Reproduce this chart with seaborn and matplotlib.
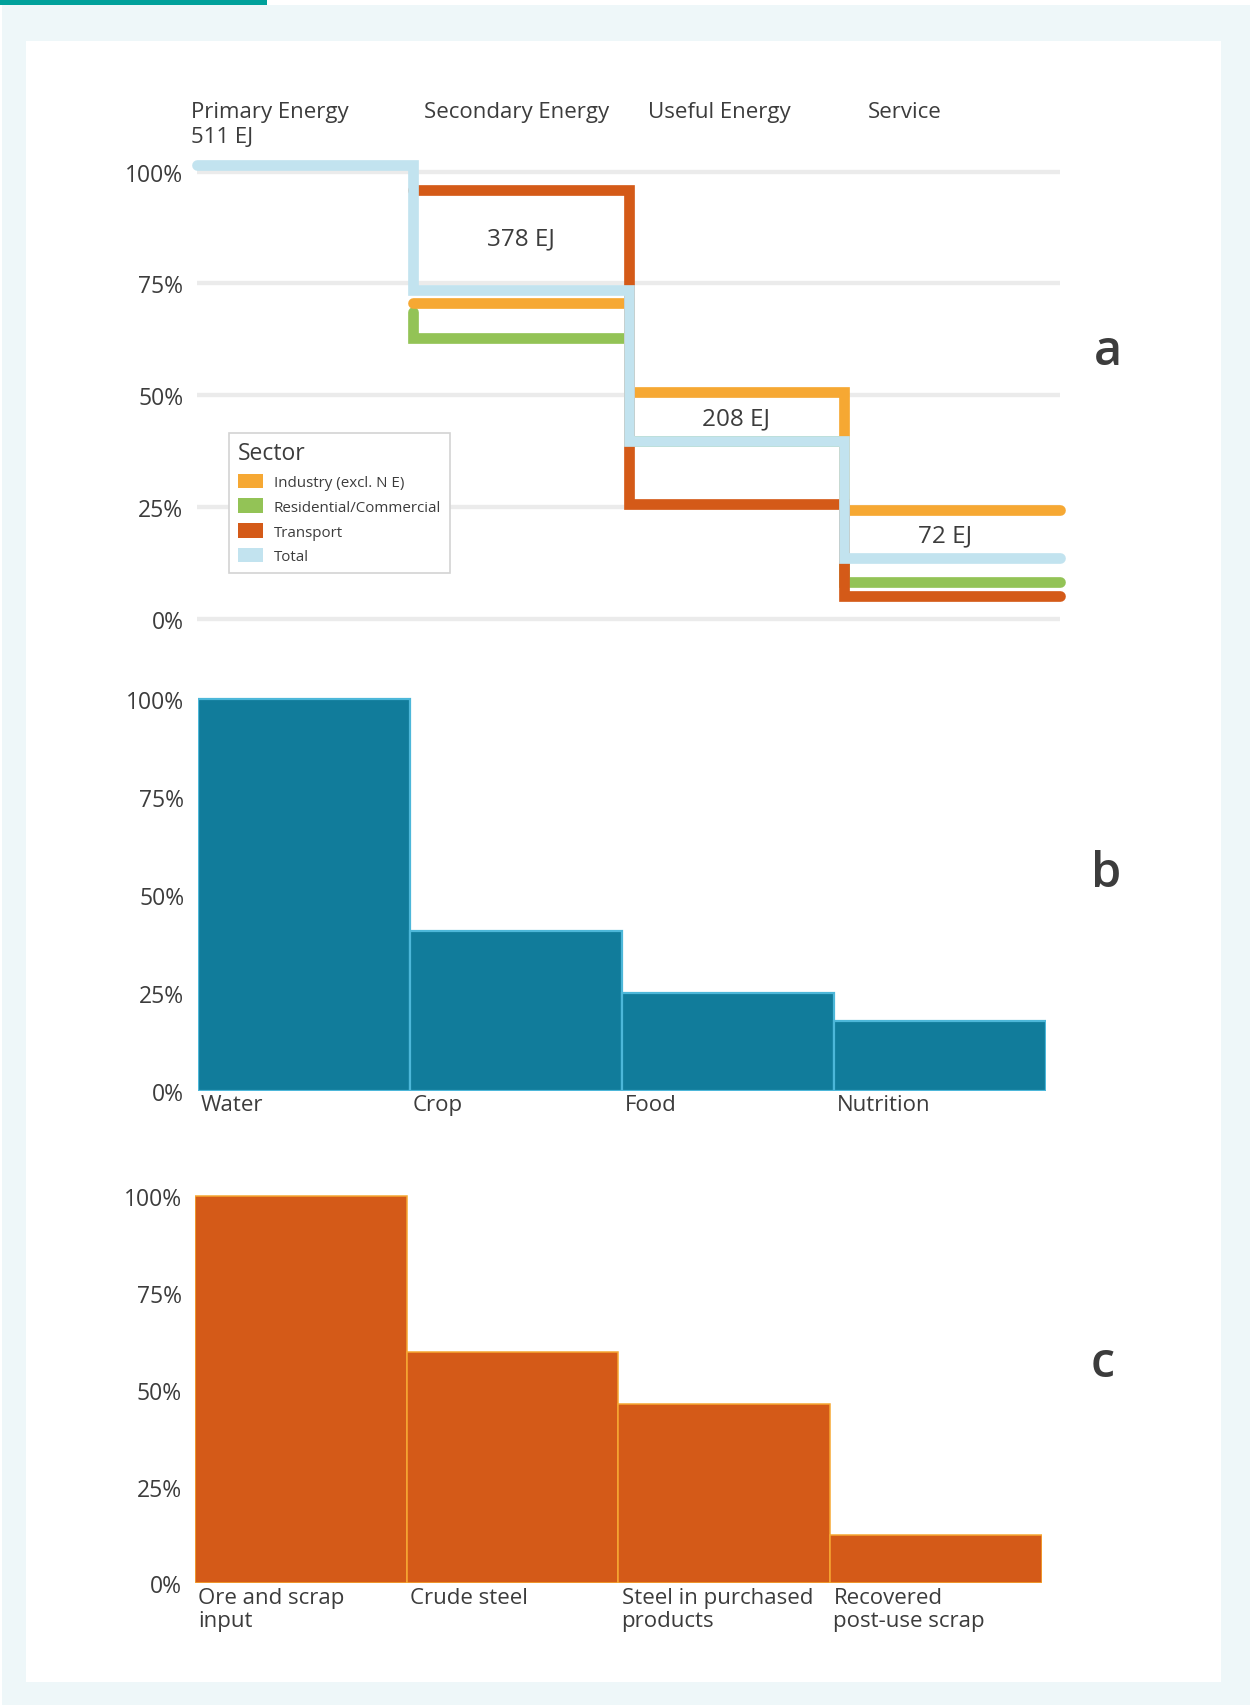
import numpy as np
import pandas as pd
import matplotlib
matplotlib.use("Agg")
import matplotlib.pyplot as plt
from matplotlib.patches import Rectangle, Patch
import seaborn as sns


# a: energy chain, share of primary energy left at each stage (%)
stages = ["Primary Energy", "Secondary Energy", "Useful Energy", "Service"]
total_x = [0, 1, 2, 3]
total_share = [101.5, 73.6, 39.8, 13.7]
total_ej = ["511 EJ", "378 EJ", "208 EJ", "72 EJ"]
industry_x = [1, 2, 3]
industry_share = [70.7, 50.8, 24.3]
residential_x = [1, 1, 2, 3]
residential_share = [68.6, 62.8, 39.8, 8.2]
transport_x = [1, 2, 3]
transport_share = [95.8, 25.7, 5.2]
sectors = ["Industry (excl. N E)", "Residential/Commercial", "Transport", "Total"]

# b: water chain
food_stages = ["Water", "Crop", "Food", "Nutrition"]
food_share = [100, 40.9, 25.1, 17.9]

# c: steel chain
steel_stages = ["Ore and scrap\ninput", "Crude steel", "Steel in purchased\nproducts",
                "Recovered\npost-use scrap"]
steel_share = [100, 59.8, 46.3, 12.6]

TEXT = "#3C3C3C"
GRID = "#EBEBEB"
C_TOTAL = "#C2E3EF"
C_IND = "#F6A833"
C_RES = "#93C356"
C_TRA = "#D45A18"
C_WATER = "#117C9B"
C_WATER_EDGE = "#4DB7D9"

sns.set_style("white")
plt.rcParams["font.family"] = ["Open Sans", "DejaVu Sans"]
plt.rcParams["text.color"] = TEXT

W, H = 1250, 1706
fig = plt.figure(figsize=(W / 100, H / 100), dpi=100, facecolor="white")


def fig_rect(x0, y0, x1, y1, color):
    # pixel box (top-left origin) -> figure fraction
    fig.add_artist(Rectangle((x0 / W, 1 - y1 / H), (x1 - x0) / W, (y1 - y0) / H,
                             transform=fig.transFigure, color=color, zorder=-10, lw=0))


fig_rect(2, 5.7, W, H, "#EEF7F9")
fig_rect(0, 0, 267, 5.7, "#00A19B")
fig_rect(26, 41.7, 1221, 1683, "white")


def to_steps(xs, ys, end=4):
    px, py = [xs[0]], [ys[0]]
    for i in range(1, len(xs)):
        for p in [(xs[i], ys[i - 1]), (xs[i], ys[i])]:
            if p != (px[-1], py[-1]):
                px.append(p[0])
                py.append(p[1])
    px.append(end)
    py.append(ys[-1])
    return pd.DataFrame({"x": px, "y": py})


def style_axis(ax, pad):
    for s in ax.spines.values():
        s.set_visible(False)
    ax.tick_params(length=0, labelsize=16.5, labelcolor=TEXT, pad=pad)
    ax.tick_params(axis="x", labelsize=16)
    ax.set_yticks([0, 25, 50, 75, 100])
    ax.set_yticklabels([f"{v}%" for v in [0, 25, 50, 75, 100]])
    ax.set_xlabel("")
    ax.set_ylabel("")
    ax.set_facecolor("none")


# ---- a ----
ax1 = fig.add_axes([197.3 / W, 1 - 633.5 / H, 862.4 / W, 483.3 / H])
lw = 7.7
line_kws = dict(sort=False, estimator=None, linewidth=lw, solid_capstyle="round",
                solid_joinstyle="miter", clip_on=False, ax=ax1)
sns.lineplot(data=to_steps(residential_x, residential_share), x="x", y="y", color=C_RES, zorder=3, **line_kws)
sns.lineplot(data=to_steps(industry_x, industry_share), x="x", y="y", color=C_IND, zorder=4, **line_kws)
sns.lineplot(data=to_steps(transport_x, transport_share), x="x", y="y", color=C_TRA, zorder=5, **line_kws)
sns.lineplot(data=to_steps(total_x, total_share), x="x", y="y", color=C_TOTAL, zorder=6, **line_kws)

ax1.set_xlim(0, 4)
ax1.set_ylim(-3, 105)
style_axis(ax1, 10)
ax1.set_xticks([])
ax1.yaxis.grid(True, color=GRID, linewidth=3.1)
ax1.set_axisbelow(True)

# stage headers
head_x = [-0.03, 1.05, 2.09, 3.11]
for hx, name in zip(head_x, stages):
    ax1.text(hx, 112.1, name, fontsize=16, ha="left", va="baseline", color=TEXT)
ax1.text(head_x[0], 106.5, total_ej[0], fontsize=16, ha="left", va="baseline", color=TEXT)

# totals inside the steps
ej_pos = [(1.5, 83.8), (2.5, 43.4), (3.47, 17.3)]
for (ex, ey), lab in zip(ej_pos, total_ej[1:]):
    ax1.text(ex, ey, lab, fontsize=17.5, ha="center", va="baseline", color=TEXT, zorder=7)

handles = [Patch(facecolor=c, edgecolor="none") for c in [C_IND, C_RES, C_TRA, C_TOTAL]]
leg = ax1.legend(handles, sectors, title="Sector", loc="upper left",
                 bbox_to_anchor=(229.3 / W, 1 - 434 / H), bbox_transform=fig.transFigure,
                 fontsize=10.9, title_fontsize=16.5, alignment="left", frameon=True,
                 fancybox=False, edgecolor="#D3D3D3", framealpha=1, borderaxespad=0,
                 handlelength=1.65, handleheight=1.1, handletextpad=0.75, labelspacing=0.55,
                 borderpad=0.55)
leg.get_frame().set_linewidth(1.2)
leg.set_zorder(10)

# ---- b ----
ax2 = fig.add_axes([197.6 / W, 1 - 1092 / H, 847.9 / W, 403.8 / H])
sns.barplot(x=food_stages, y=food_share, color=C_WATER, saturation=1, width=1,
            edgecolor=C_WATER_EDGE, linewidth=1.6, ax=ax2)
ax2.set_xlim(-0.5, 3.5)
ax2.set_ylim(0, 103)
style_axis(ax2, 9.6)
ax2.set_xticks(np.arange(len(food_stages)) - 0.485)
ax2.set_xticklabels(food_stages, ha="left", va="top")
ax2.tick_params(axis="x", pad=2.5)

# ---- c ----
ax3 = fig.add_axes([194.7 / W, 1 - 1584.3 / H, 847.4 / W, 398.6 / H])
sns.barplot(x=steel_stages, y=steel_share, color=C_TRA, saturation=1, width=1,
            edgecolor=C_IND, linewidth=1.1, ax=ax3)
ax3.set_xlim(-0.5, 3.5)
ax3.set_ylim(0, 103)
style_axis(ax3, 9.2)
ax3.set_xticks(np.arange(len(steel_stages)) - 0.485)
ax3.set_xticklabels(steel_stages, ha="left", va="top", linespacing=1.1)
ax3.tick_params(axis="x", pad=3)

# panel letters
for lx, ly, letter in [(1107.5, 365, "a"), (1106, 886.6, "b"), (1103, 1376.7, "c")]:
    fig.text(lx / W, 1 - ly / H, letter, fontsize=35, fontweight="semibold",
             ha="center", va="baseline", color=TEXT)

fig.savefig("out.png", dpi=100, facecolor=fig.get_facecolor())
